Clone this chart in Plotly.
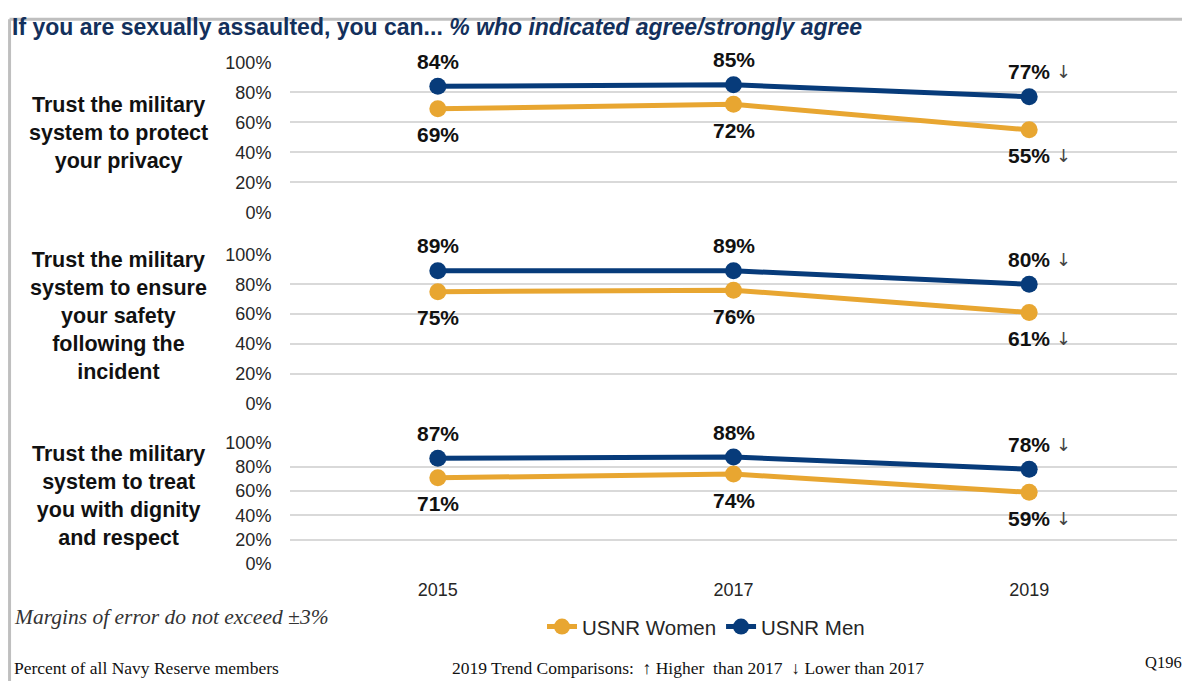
import plotly.graph_objects as go

# Data
years = ['2015', '2017', '2019']
row_labels = [
    'Trust the military<br>system to protect<br>your privacy',
    'Trust the military<br>system to ensure<br>your safety<br>following the<br>incident',
    'Trust the military<br>system to treat<br>you with dignity<br>and respect',
]
women = [[69, 72, 55], [75, 76, 61], [71, 74, 59]]
men = [[84, 85, 77], [89, 89, 80], [87, 88, 78]]
trend_2019_women = ['↓', '↓', '↓']
trend_2019_men = ['↓', '↓', '↓']
y_ticks = [0, 20, 40, 60, 80, 100]

GOLD = '#E8A631'
NAVY = '#073B7A'
TITLE_NAVY = '#13305C'
SANS = 'Arial, Liberation Sans, sans-serif'
SERIF = 'Times New Roman, Liberation Serif, serif'

W, H = 1190, 683


# target pixel positions (as seen in the page shot) -> paper fractions
def px_(x):
    return (x - 8) / W


def py(y):
    return 1 - ((y - 15.6) / 0.975) / H


x_dom = [px_(290), px_(1177)]
# panel pixel tops/bottoms (100% and 0% gridlines)
panels_px = [(60, 211), (253, 403), (442, 564)]
y_doms = [[py(b), py(t)] for t, b in panels_px]
label_centers = [131, 315, 496]

fig = go.Figure()

for i in range(3):
    xa = 'x' if i == 0 else f'x{i + 1}'
    ya = 'y' if i == 0 else f'y{i + 1}'
    fig.add_trace(go.Scatter(
        x=years, y=women[i], mode='lines+markers', name='USNR Women',
        line=dict(color=GOLD, width=5), marker=dict(size=17, color=GOLD),
        showlegend=(i == 0), legendrank=1, xaxis=xa, yaxis=ya))
    fig.add_trace(go.Scatter(
        x=years, y=men[i], mode='lines+markers', name='USNR Men',
        line=dict(color=NAVY, width=5), marker=dict(size=17, color=NAVY),
        showlegend=(i == 0), legendrank=2, xaxis=xa, yaxis=ya))

    # data labels (x given as category index)
    for j in range(len(years)):
        fig.add_annotation(x=j, y=men[i][j], xref=xa, yref=ya,
                           text=f'<b>{men[i][j]}%</b>', showarrow=False,
                           yanchor='middle', yshift=25,
                           font=dict(family=SANS, size=21, color='#111111'))
        fig.add_annotation(x=j, y=women[i][j], xref=xa, yref=ya,
                           text=f'<b>{women[i][j]}%</b>', showarrow=False,
                           yanchor='middle', yshift=-26,
                           font=dict(family=SANS, size=21, color='#111111'))
    last = len(years) - 1
    fig.add_annotation(x=last, y=men[i][last], xref=xa, yref=ya,
                       text=trend_2019_men[i], showarrow=False, xshift=34, yshift=25,
                       yanchor='middle', font=dict(family='DejaVu Sans', size=18, color='#444444'))
    fig.add_annotation(x=last, y=women[i][last], xref=xa, yref=ya,
                       text=trend_2019_women[i], showarrow=False, xshift=34, yshift=-26,
                       yanchor='middle', font=dict(family='DejaVu Sans', size=18, color='#444444'))

    # row label
    fig.add_annotation(x=px_(118), y=py(label_centers[i]), xref='paper', yref='paper',
                       xanchor='center', yanchor='middle',
                       text=f'<b>{row_labels[i]}</b>', showarrow=False, align='center',
                       font=dict(family=SANS, size=21.5, color='#111111'))

    xkey = 'xaxis' if i == 0 else f'xaxis{i + 1}'
    ykey = 'yaxis' if i == 0 else f'yaxis{i + 1}'
    fig.layout[xkey] = dict(
        domain=x_dom, anchor=ya, type='category', range=[-0.5, 2.5],
        showgrid=False, zeroline=False, showline=False,
        showticklabels=(i == 2), ticks='outside', ticklen=9,
        tickcolor='rgba(0,0,0,0)',
        tickfont=dict(family=SANS, size=18, color='#262626'))
    fig.layout[ykey] = dict(
        domain=y_doms[i], anchor=xa, range=[0, 100],
        tickmode='array', tickvals=y_ticks, ticktext=[f'{v}%' for v in y_ticks],
        showgrid=True, gridcolor='#D9D9D9', gridwidth=1.5,
        zeroline=False, showline=False,
        ticks='outside', ticklen=14, tickcolor='rgba(0,0,0,0)',
        tickfont=dict(family=SANS, size=18, color='#262626'))

# title
fig.add_annotation(x=px_(10), y=py(25), xref='paper', yref='paper',
                   xanchor='left', yanchor='middle',
                   text='<b>If you are sexually assaulted, you can... <i>% who indicated agree/strongly agree</i></b>',
                   showarrow=False, font=dict(family=SANS, size=23, color=TITLE_NAVY))

# footer
fig.add_annotation(x=px_(12), y=py(617), xref='paper', yref='paper',
                   xanchor='left', yanchor='middle',
                   text='<i>Margins of error do not exceed ±3%</i>', showarrow=False,
                   font=dict(family=SERIF, size=21.5, color='#333333'))
fig.add_annotation(x=px_(12), y=py(668), xref='paper', yref='paper',
                   xanchor='left', yanchor='middle',
                   text='Percent of all Navy Reserve members', showarrow=False,
                   font=dict(family=SERIF, size=17.5, color='#111111'))
fig.add_annotation(x=px_(688), y=py(668), xref='paper', yref='paper',
                   xanchor='center', yanchor='middle',
                   text='2019 Trend Comparisons:  ↑ Higher  than 2017  ↓ Lower than 2017',
                   showarrow=False, font=dict(family=SERIF, size=17.5, color='#111111'))
fig.add_annotation(x=px_(1184), y=py(663), xref='paper', yref='paper',
                   xanchor='right', yanchor='middle',
                   text='Q196', showarrow=False,
                   font=dict(family=SERIF, size=16.5, color='#111111'))

# frame (top and left border)
fig.add_shape(type='line', xref='paper', yref='paper', x0=0.0013, x1=1, y0=0.998, y1=0.998,
              line=dict(color='#BFBFBF', width=3))
fig.add_shape(type='line', xref='paper', yref='paper', x0=0.0013, x1=0.0013, y0=0, y1=0.998,
              line=dict(color='#BFBFBF', width=3))

fig.update_layout(
    width=W, height=H,
    margin=dict(l=0, r=0, t=0, b=0, pad=0),
    paper_bgcolor='white', plot_bgcolor='white',
    showlegend=True,
    legend=dict(orientation='h', x=px_(706), xanchor='center', y=py(627), yanchor='middle',
                font=dict(family=SANS, size=20.5, color='#262626'), itemwidth=30,
                bgcolor='rgba(0,0,0,0)'),
)

fig.write_html('out.html')
